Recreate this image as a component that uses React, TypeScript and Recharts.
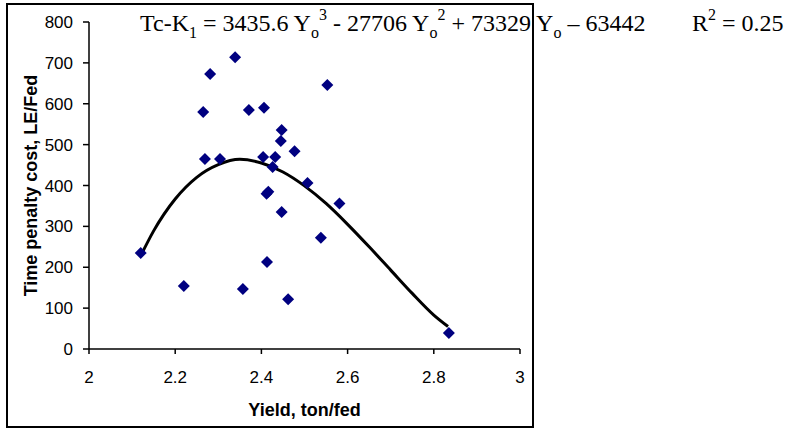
import React from 'react'
import { ComposedChart, Line, Scatter, XAxis, YAxis, Label } from 'recharts'

// observed yield (ton/fed) and time penalty cost (LE/Fed)
const yieldValues = [
  2.12, 2.22, 2.265, 2.269, 2.281, 2.304, 2.339, 2.357, 2.371, 2.404, 2.406, 2.413, 2.412, 2.416,
  2.426, 2.432, 2.445, 2.447, 2.447, 2.462, 2.477, 2.507, 2.538, 2.553, 2.581, 2.835,
]
const costValues = [
  235, 154, 580, 465, 673, 465, 714, 147, 585, 470, 590, 213, 380, 385,
  445, 470, 509, 536, 335, 122, 484, 406, 272, 646, 356, 39,
]

// fitted trend curve
const trendYield = [2.12, 2.15, 2.2, 2.25, 2.3, 2.35, 2.4, 2.45, 2.5, 2.55, 2.6, 2.65, 2.7, 2.75, 2.8, 2.833]
const trendCost = [228, 289, 367, 420, 451, 464, 455, 433, 399, 356, 305, 250, 193, 136, 83, 55]

const xTicks = [2, 2.2, 2.4, 2.6, 2.8, 3]
const yTicks = [0, 100, 200, 300, 400, 500, 600, 700, 800]

const points = yieldValues.map((x, i) => ({ x, y: costValues[i] }))
const trend = trendYield.map((x, i) => ({ x, y: trendCost[i] }))

const sans = 'Liberation Sans, Arial, sans-serif'
const serif = 'Liberation Serif, Times New Roman, serif'

const Diamond = (props: any) => {
  const { cx, cy } = props
  const r = 6
  return (
    <polygon
      points={`${cx},${cy - r} ${cx + r},${cy} ${cx},${cy + r} ${cx - r},${cy}`}
      fill="#000080"
    />
  )
}

const XTitle = (props: any) => {
  const vb = props.viewBox
  return (
    <text
      x={vb.x + vb.width / 2}
      y={vb.y + 67}
      textAnchor="middle"
      fontFamily={sans}
      fontWeight="bold"
      fontSize={18}
      fill="#000"
    >
      Yield, ton/fed
    </text>
  )
}

const YTitle = (props: any) => {
  const vb = props.viewBox
  const x = 37
  const y = vb.y + vb.height / 2
  return (
    <text
      x={x}
      y={y}
      transform={`rotate(-90, ${x}, ${y})`}
      textAnchor="middle"
      fontFamily={sans}
      fontWeight="bold"
      fontSize={18}
      fill="#000"
    >
      Time penalty cost, LE/Fed
    </text>
  )
}

const tickStyle = { fontSize: 17, fill: '#000', fontFamily: sans }

export default function App() {
  return (
    <div style={{ position: 'absolute', left: 0, top: 0, width: 788, height: 428, background: '#fff' }}>
      <div
        style={{
          position: 'absolute',
          left: 6,
          top: 3,
          width: 528,
          height: 425,
          border: '2px solid #000',
          boxSizing: 'border-box',
        }}
      />
      <div style={{ position: 'absolute', left: 0, top: 0 }}>
        <ComposedChart width={788} height={428} margin={{ top: 22, right: 268, bottom: 12, left: 49 }}>
          <XAxis
            type="number"
            dataKey="x"
            domain={[2, 3]}
            ticks={xTicks}
            allowDataOverflow
            height={67}
            tickSize={5}
            tickMargin={17}
            tick={tickStyle}
            axisLine={{ stroke: '#000', strokeWidth: 1.5 }}
            tickLine={{ stroke: '#000', strokeWidth: 1.5 }}
            label={<Label content={XTitle} />}
          />
          <YAxis
            type="number"
            dataKey="y"
            domain={[0, 800]}
            ticks={yTicks}
            allowDataOverflow
            width={40}
            tickSize={6}
            tickMargin={10}
            tick={tickStyle}
            axisLine={{ stroke: '#000', strokeWidth: 1.5 }}
            tickLine={{ stroke: '#000', strokeWidth: 1.5 }}
            label={<Label content={YTitle} />}
          />
          <Line
            data={trend}
            dataKey="y"
            type="monotone"
            stroke="#000"
            strokeWidth={3}
            dot={false}
            activeDot={false}
            isAnimationActive={false}
          />
          <Scatter data={points} dataKey="y" shape={Diamond} isAnimationActive={false} />
        </ComposedChart>
      </div>
      <svg
        width={788}
        height={428}
        style={{ position: 'absolute', left: 0, top: 0, pointerEvents: 'none' }}
      >
        <text x={140} y={31} fontFamily={serif} fontSize={24} fill="#000">
          Tc-K
          <tspan dy={7} fontSize={16}>1</tspan>
          <tspan dy={-7}> = 3435.6 Y</tspan>
          <tspan dy={7} fontSize={16}>o</tspan>
          <tspan dy={-18} fontSize={16}>3</tspan>
          <tspan dy={11}> - 27706 Y</tspan>
          <tspan dy={7} fontSize={16}>o</tspan>
          <tspan dy={-18} fontSize={16}>2</tspan>
          <tspan dy={11}> + 73329 Y</tspan>
          <tspan dy={7} fontSize={16}>o</tspan>
          <tspan dy={-7}> – 63442</tspan>
        </text>
        <text x={692} y={31} fontFamily={serif} fontSize={24} fill="#000">
          R
          <tspan dy={-11} fontSize={16}>2</tspan>
          <tspan dy={11}> = 0.25</tspan>
        </text>
      </svg>
    </div>
  )
}
